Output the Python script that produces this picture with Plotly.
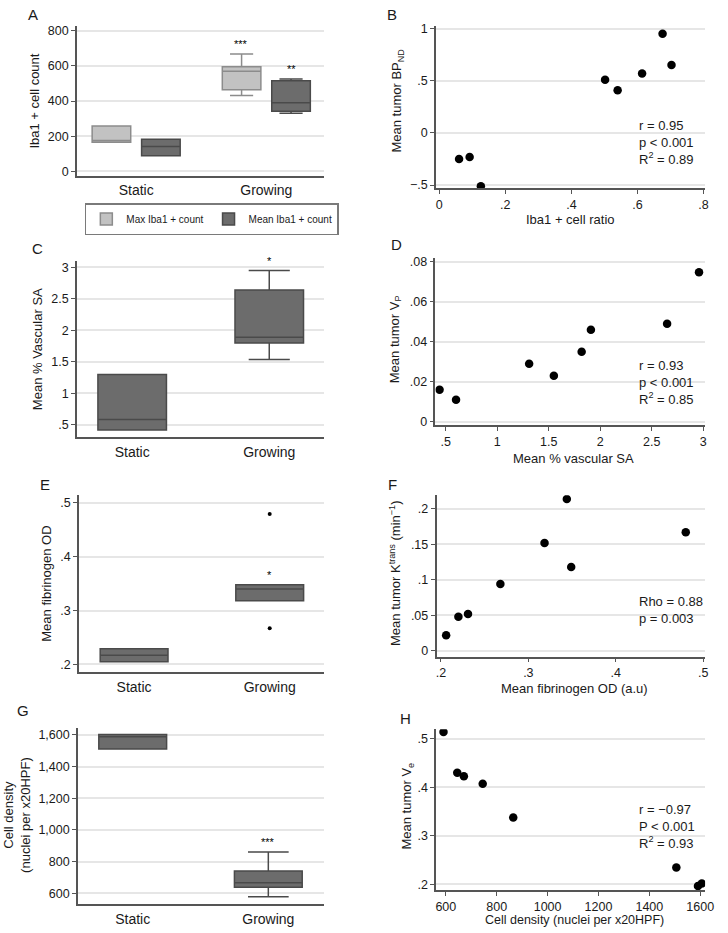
import plotly.graph_objects as go

W, H = 728, 933
FONT = "Liberation Sans, Arial, Helvetica, sans-serif"
TXT = "#1a1a1a"
AXC = "#555555"
GRID = "#e6e6e6"
LIGHT_FILL, LIGHT_LINE = "#c2c2c2", "#8c8c8c"
DARK_FILL, DARK_LINE = "#6c6c6c", "#4a4a4a"

groups = ["Static", "Growing"]

# ---- Panel A: Iba1+ cell count (box summaries) ----
a_max_q1 = [165, 465]
a_max_med = [176, 570]
a_max_q3 = [258, 595]
a_max_lo = [165, 432]
a_max_hi = [258, 668]
a_mean_q1 = [89, 342]
a_mean_med = [142, 390]
a_mean_q3 = [183, 515]
a_mean_lo = [89, 330]
a_mean_hi = [183, 525]
a_sig_max = ["", "***"]
a_sig_mean = ["", "**"]
a_yticks = [0, 200, 400, 600, 800]
a_yticktext = ["0", "200", "400", "600", "800"]

# ---- Panel B ----
b_x = [0.06, 0.092, 0.126, 0.502, 0.54, 0.614, 0.676, 0.703]
b_y = [-0.25, -0.23, -0.51, 0.51, 0.41, 0.57, 0.95, 0.65]
b_xticks = [0, 0.2, 0.4, 0.6, 0.8]
b_xticktext = ["0", ".2", ".4", ".6", ".8"]
b_yticks = [-0.5, 0, 0.5, 1]
b_yticktext = ["\u2212.5", "0", ".5", "1"]
b_stats = ["r = 0.95", "p < 0.001", "R<sup>2</sup> = 0.89"]

# ---- Panel C ----
c_q1 = [0.42, 1.80]
c_med = [0.585, 1.89]
c_q3 = [1.30, 2.64]
c_lo = [0.42, 1.54]
c_hi = [1.30, 2.95]
c_sig = ["", "*"]
c_yticks = [0.5, 1, 1.5, 2, 2.5, 3]
c_yticktext = [".5", "1", "1.5", "2", "2.5", "3"]

# ---- Panel D ----
d_x = [0.44, 0.60, 1.31, 1.55, 1.82, 1.91, 2.65, 2.96]
d_y = [0.016, 0.011, 0.029, 0.023, 0.035, 0.046, 0.049, 0.0747]
d_xticks = [0.5, 1, 1.5, 2, 2.5, 3]
d_xticktext = [".5", "1", "1.5", "2", "2.5", "3"]
d_yticks = [0, 0.02, 0.04, 0.06, 0.08]
d_yticktext = ["0", ".02", ".04", ".06", ".08"]
d_stats = ["r = 0.93", "p < 0.001", "R<sup>2</sup> = 0.85"]

# ---- Panel E ----
e_q1 = [0.205, 0.318]
e_med = [0.217, 0.340]
e_q3 = [0.229, 0.348]
e_out_group = ["Growing", "Growing"]
e_out_y = [0.479, 0.267]
e_sig = ["", "*"]
e_yticks = [0.2, 0.3, 0.4, 0.5]
e_yticktext = [".2", ".3", ".4", ".5"]

# ---- Panel F ----
f_x = [0.206, 0.220, 0.231, 0.268, 0.3185, 0.344, 0.349, 0.480]
f_y = [0.022, 0.048, 0.052, 0.094, 0.152, 0.214, 0.118, 0.167]
f_xticks = [0.2, 0.3, 0.4, 0.5]
f_xticktext = [".2", ".3", ".4", ".5"]
f_yticks = [0, 0.05, 0.1, 0.15, 0.2]
f_yticktext = ["0", ".05", ".1", ".15", ".2"]
f_stats = ["Rho = 0.88", "p = 0.003"]

# ---- Panel G ----
g_q1 = [1510, 638]
g_med = [1588, 667]
g_q3 = [1602, 740]
g_lo = [1510, 579]
g_hi = [1602, 861]
g_sig = ["", "***"]
g_yticks = [600, 800, 1000, 1200, 1400, 1600]
g_yticktext = ["600", "800", "1,000", "1,200", "1,400", "1,600"]

# ---- Panel H ----
h_x = [591, 645, 671, 745, 865, 1506, 1591, 1606]
h_y = [0.514, 0.430, 0.423, 0.4075, 0.338, 0.235, 0.197, 0.202]
h_xticks = [600, 800, 1000, 1200, 1400, 1600]
h_xticktext = ["600", "800", "1000", "1200", "1400", "1600"]
h_yticks = [0.2, 0.3, 0.4, 0.5]
h_yticktext = [".2", ".3", ".4", ".5"]
h_stats = ["r = \u22120.97", "P < 0.001", "R<sup>2</sup> = 0.93"]


def px(x):
    return x / W


def py(y):
    return 1 - y / H


fig = go.Figure()


def box(n, q1, med, q3, lo, hi, fill, line, name=None, legend=False, width=None, offsetgroup=None):
    kw = {}
    if width is not None:
        kw["width"] = width
    if offsetgroup is not None:
        kw["offsetgroup"] = offsetgroup
    sfx = "" if n == 1 else str(n)
    fig.add_trace(go.Box(
        x=groups, q1=q1, median=med, q3=q3, lowerfence=lo, upperfence=hi,
        orientation="v", boxpoints=False, fillcolor=fill,
        line=dict(color=line, width=1.5), whiskerwidth=0.6,
        name=name or "", showlegend=legend,
        xaxis="x" + sfx, yaxis="y" + sfx, hoverinfo="skip", **kw))


def scatter(n, xs, ys, size=8.5):
    fig.add_trace(go.Scatter(
        x=xs, y=ys, mode="markers", showlegend=False,
        marker=dict(color="black", size=size),
        xaxis="x" + str(n), yaxis="y" + str(n), hoverinfo="skip"))


box(1, a_max_q1, a_max_med, a_max_q3, a_max_lo, a_max_hi, LIGHT_FILL, LIGHT_LINE,
    name="Max Iba1 + count", legend=True, offsetgroup="max")
box(1, a_mean_q1, a_mean_med, a_mean_q3, a_mean_lo, a_mean_hi, DARK_FILL, DARK_LINE,
    name="Mean Iba1 + count", legend=True, offsetgroup="mean")
scatter(2, b_x, b_y)
box(3, c_q1, c_med, c_q3, c_lo, c_hi, DARK_FILL, DARK_LINE, width=0.5)
scatter(4, d_x, d_y)
box(5, e_q1, e_med, e_q3, e_q1, e_q3, DARK_FILL, DARK_LINE, width=0.5)
scatter(5, e_out_group, e_out_y, size=4)
scatter(6, f_x, f_y)
box(7, g_q1, g_med, g_q3, g_lo, g_hi, DARK_FILL, DARK_LINE, width=0.5)
scatter(8, h_x, h_y)

tickfont = dict(family=FONT, size=12.5, color=TXT)
catfont = dict(family=FONT, size=14, color=TXT)

panels = {
    1: dict(xd=(77, 328), yd=(21.6, 172.4), xr=(-0.455, 1.447), yr=(-25, 825), cat=True,
            yt=(a_yticks, a_yticktext)),
    2: dict(xd=(441, 714), yd=(21.7, 185), xr=(-0.01, 0.805), yr=(-0.53, 1.02), cat=False,
            xt=(b_xticks, b_xticktext), yt=(b_yticks, b_yticktext)),
    3: dict(xd=(77, 328), yd=(258.6, 436.7), xr=(-0.403, 1.403), yr=(0.3, 3.1), cat=True,
            yt=(c_yticks, c_yticktext)),
    4: dict(xd=(440.5, 714), yd=(255, 424), xr=(0.4, 3.02), yr=(-0.0015, 0.082), cat=False,
            xt=(d_xticks, d_xticktext), yt=(d_yticks, d_yticktext)),
    5: dict(xd=(79, 328), yd=(495, 674), xr=(-0.407, 1.404), yr=(0.185, 0.514), cat=True,
            yt=(e_yticks, e_yticktext)),
    6: dict(xd=(441.6, 713.8), yd=(495, 658), xr=(0.195, 0.502), yr=(-0.0083, 0.2193), cat=False,
            xt=(f_xticks, f_xticktext), yt=(f_yticks, f_yticktext)),
    7: dict(xd=(78, 327), yd=(729.6, 908), xr=(-0.404, 1.407), yr=(531, 1646), cat=True,
            yt=(g_yticks, g_yticktext)),
    8: dict(xd=(441.2, 713.9), yd=(731.2, 893.9), xr=(562, 1619), yr=(0.188, 0.52), cat=False,
            xt=(h_xticks, h_xticktext), yt=(h_yticks, h_yticktext)),
}

layout = {}
for n, p in panels.items():
    sfx = "" if n == 1 else str(n)
    xa = dict(domain=[px(p["xd"][0]), px(p["xd"][1])], range=list(p["xr"]),
              anchor="y" + sfx, showline=True, linecolor=AXC, linewidth=1.5,
              showgrid=False, zeroline=False, fixedrange=True)
    if p["cat"]:
        xa.update(type="category", categoryorder="array", categoryarray=groups,
                  ticks="outside", ticklen=1, tickcolor="rgba(0,0,0,0)", tickfont=catfont)
    else:
        xa.update(tickmode="array", tickvals=p["xt"][0], ticktext=p["xt"][1],
                  ticks="outside", ticklen=4, tickwidth=1.2, tickcolor=AXC, tickfont=tickfont)
    ya = dict(domain=[py(p["yd"][1]), py(p["yd"][0])], range=list(p["yr"]),
              anchor="x" + sfx, showline=True, linecolor=AXC, linewidth=1.5,
              showgrid=True, gridcolor=GRID, gridwidth=1.5, zeroline=False,
              tickmode="array", tickvals=p["yt"][0], ticktext=p["yt"][1],
              ticks="outside", ticklen=4, tickwidth=1.2, tickcolor=AXC, tickfont=tickfont,
              fixedrange=True)
    layout["xaxis" + sfx] = xa
    layout["yaxis" + sfx] = ya

annotations = []


def ann(text, x, y, size=13, angle=0, xanchor="center", yanchor="middle", **kw):
    annotations.append(dict(text=text, x=px(x), y=py(y), xref="paper", yref="paper",
                            showarrow=False, textangle=angle, xanchor=xanchor, yanchor=yanchor,
                            font=dict(family=FONT, size=size, color=TXT), **kw))


# panel letters
for letter, (x, y) in zip("ABCDEFGH", [(32, 10), (396, 10), (37, 246), (401, 242),
                                        (45, 484), (397, 484), (22, 712), (410, 720)]):
    ann(letter, x, y, size=15)

# y titles
ann("Iba1 + cell count", 34, 97, angle=-90)
ann("Mean tumor BP<sub>ND</sub>", 402, 96, angle=-90)
ann("Mean % Vascular SA", 37, 347, angle=-90)
ann("Mean tumor V<sub>P</sub>", 400, 338, angle=-90)
ann("Mean fibrinogen OD", 46, 584, angle=-90)
ann("Mean tumor K<sup>trans</sup> (min<sup>\u22121</sup>)", 400, 574, angle=-90)
ann("Cell density<br>(nuclei per x20HPF)", 16, 818, angle=-90)
ann("Mean tumor V<sub>e</sub>", 412, 809, angle=-90)

# x titles
ann("Iba1 + cell ratio", 577, 217)
ann("Mean % vascular SA", 580, 458)
ann("Mean fibrinogen OD (a.u)", 581, 690)
ann("Cell density (nuclei per x20HPF)", 581, 924, size=12.5)

# stats text
ann("<br>".join(b_stats), 645, 139, xanchor="left", align="left")
ann("<br>".join(d_stats), 645, 381, xanchor="left", align="left")
ann("<br>".join(f_stats), 645, 611, xanchor="left", align="left")
ann("<br>".join(h_stats), 645, 830, xanchor="left", align="left")


# significance stars
def stars(n, marks, ys, xshift=0):
    sfx = "" if n == 1 else str(n)
    for i, (m, yv) in enumerate(zip(marks, ys)):
        if m:
            annotations.append(dict(text=m, x=i, y=yv, xref="x" + sfx, yref="y" + sfx,
                                    showarrow=False, xshift=xshift, yshift=2,
                                    yanchor="bottom", font=dict(family=FONT, size=11, color="#000000")))


stars(1, a_sig_max, a_max_hi, xshift=-25)
stars(1, a_sig_mean, a_mean_hi, xshift=25)
stars(3, c_sig, c_hi)
stars(5, e_sig, e_q3)
stars(7, g_sig, g_hi)

fig.update_layout(
    width=W, height=H, margin=dict(l=0, r=0, t=0, b=0),
    paper_bgcolor="white", plot_bgcolor="white",
    boxmode="group", boxgap=0.24, boxgroupgap=0.22,
    showlegend=True,
    legend=dict(orientation="h", x=px(85), y=py(200), xanchor="left", yanchor="top",
                bordercolor="#7a7a7a", borderwidth=1.5, bgcolor="white",
                font=dict(family=FONT, size=10, color=TXT),
                itemwidth=30, tracegroupgap=0),
    annotations=annotations,
    font=dict(family=FONT, color=TXT),
    **layout,
)

post = ("var d=document.getElementById('{plot_id}');"
        "document.body.style.margin='0';document.body.style.padding='0';"
        "d.style.position='absolute';d.style.left='0px';d.style.top='0px';")
fig.write_html("out.html", post_script=post, config={"displayModeBar": False})
